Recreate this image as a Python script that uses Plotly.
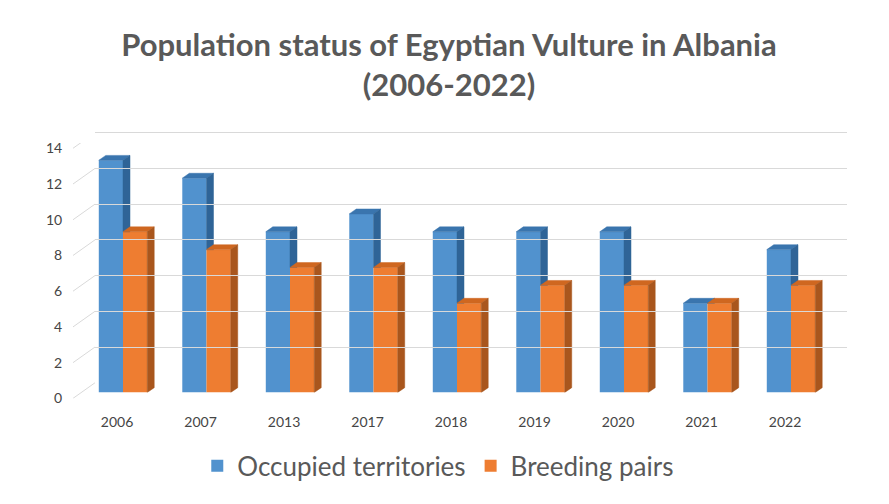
import plotly.graph_objects as go

# ---- data ----
years = ["2006", "2007", "2013", "2017", "2018", "2019", "2020", "2021", "2022"]
occupied = [13, 12, 9, 10, 9, 9, 9, 5, 8]
breeding = [9, 8, 7, 7, 5, 6, 6, 5, 6]
y_ticks = [0, 2, 4, 6, 8, 10, 12, 14]
series_names = ["Occupied territories", "Breeding pairs"]

# ---- geometry / style ----
W, H = 889, 504
UNIT = 18.3            # px per value unit
YTOP = 14.3            # axis range top (a little above last tick so its gridline shows)
CAT_PX = 83.5          # px per category
BAR_W = 0.29           # bar width in category units
DDX = 7 / CAT_PX       # 3D depth offset (category units)
DDY = 5 / UNIT         # 3D depth offset (value units)

FONT = "Lato"
GRAY = "#595959"
TICKGRAY = "#454545"
GRID = "#d9d9d9"
BLUE, BLUE_SIDE, BLUE_TOP = "#5192CE", "#2F6497", "#3A75AE"
ORNG, ORNG_SIDE, ORNG_TOP = "#EE7D31", "#A9561D", "#CF6720"

def xd(px):
    return px / W

def yd(px):
    return 1 - px / H

n = len(years)
xs = list(range(n))

# plane positions (pixels)
bar_left = 123 - CAT_PX / 2
bar_right = bar_left + CAT_PX * n
bar_y0 = 398
lab_x, lab_y0 = 73, 404
back_left, back_y0 = 95, 388
back_right = back_left + CAT_PX * n

fig = go.Figure()

# front faces
fig.add_trace(go.Bar(x=xs, y=occupied, width=BAR_W, offset=-BAR_W, name=series_names[0],
                     marker=dict(color=BLUE, line=dict(width=0)), xaxis="x", yaxis="y2"))
fig.add_trace(go.Bar(x=xs, y=breeding, width=BAR_W, offset=0, name=series_names[1],
                     marker=dict(color=ORNG, line=dict(width=0)), xaxis="x", yaxis="y2"))

def top_poly(xl, xr, v):
    return [xl, xl + DDX, xr + DDX, xr, xl, None], [v, v + DDY, v + DDY, v, v, None]

bt_x, bt_y, bs_x, bs_y, ot_x, ot_y, os_x, os_y = [], [], [], [], [], [], [], []
for i in xs:
    b, o = occupied[i], breeding[i]
    xl, xr = i - BAR_W, i
    px_, py_ = top_poly(xl, xr, b); bt_x += px_; bt_y += py_
    # blue side face, only the part not hidden by the orange bar
    lo = min(o, b)
    bs_x += [xr, xr + DDX, xr + DDX, xr, xr, None]
    bs_y += [lo, lo, b + DDY, b, lo, None]
    px_, py_ = top_poly(i, i + BAR_W, o); ot_x += px_; ot_y += py_
    xr2 = i + BAR_W
    os_x += [xr2, xr2 + DDX, xr2 + DDX, xr2, xr2, None]
    os_y += [0, DDY, o + DDY, o, 0, None]

for fx, fy, col in [(bt_x, bt_y, BLUE_TOP), (bs_x, bs_y, BLUE_SIDE),
                    (ot_x, ot_y, ORNG_TOP), (os_x, os_y, ORNG_SIDE)]:
    fig.add_trace(go.Scatter(x=fx, y=fy, fill="toself", fillcolor=col, mode="lines",
                             line=dict(width=0.5, color=col), showlegend=False, hoverinfo="skip",
                             xaxis="x", yaxis="y2"))

# back-wall gridlines subplot (needs a trace)
fig.add_trace(go.Scatter(x=[0], y=[0], mode="markers", marker=dict(opacity=0),
                         showlegend=False, hoverinfo="skip", xaxis="x2", yaxis="y3"))

# diagonal connectors from labels to back wall
dv = (lab_y0 - back_y0) / UNIT
cx, cy = [], []
for v in y_ticks:
    cx += [0, 1, None]
    cy += [v, v + dv, None]
fig.add_trace(go.Scatter(x=cx, y=cy, mode="lines", line=dict(color=GRID, width=1),
                         showlegend=False, hoverinfo="skip", xaxis="x3", yaxis="y"))

fig.update_layout(
    width=W, height=H,
    margin=dict(l=0, r=0, t=0, b=0),
    paper_bgcolor="white", plot_bgcolor="rgba(0,0,0,0)",
    barmode="overlay",
    title=dict(text="<b>Population status of Egyptian Vulture in Albania<br>(2006-2022)</b>",
               x=0.505, xanchor="center", y=yd(56), yanchor="middle",
               font=dict(family=FONT, size=31, color=GRAY)),
    font=dict(family=FONT, color=GRAY),
    legend=dict(orientation="h", x=0.493, xanchor="center", y=yd(473), yanchor="middle",
                font=dict(family=FONT, size=26, color=GRAY), itemwidth=30,
                bgcolor="rgba(0,0,0,0)"),
    # bar plane
    xaxis=dict(domain=[xd(bar_left), xd(bar_right)], range=[-0.5, n - 0.5], anchor="y2",
               tickmode="array", tickvals=xs, ticktext=years, ticks="outside", ticklen=17,
               tickcolor="rgba(0,0,0,0)", ticklabelshift=-6, showgrid=False, zeroline=False,
               showline=False, tickfont=dict(size=14, color=TICKGRAY)),
    yaxis2=dict(domain=[yd(bar_y0), yd(bar_y0 - YTOP * UNIT)], range=[0, YTOP], anchor="x",
                visible=False, showgrid=False),
    # label plane
    yaxis=dict(domain=[yd(lab_y0), yd(lab_y0 - YTOP * UNIT)], range=[0, YTOP], anchor="free",
               position=xd(lab_x), tickmode="array", tickvals=y_ticks, ticks="outside", ticklen=8,
               tickcolor="rgba(0,0,0,0)", showgrid=False, zeroline=False, showline=False,
               tickfont=dict(size=14, color=TICKGRAY)),
    xaxis3=dict(domain=[xd(lab_x), xd(back_left)], range=[0, 1], anchor="y", visible=False),
    # back wall
    xaxis2=dict(domain=[xd(back_left), xd(back_right)], range=[0, 1], anchor="y3", visible=False),
    yaxis3=dict(domain=[yd(back_y0), yd(back_y0 - YTOP * UNIT)], range=[0, YTOP], anchor="x2",
                tickmode="array", tickvals=y_ticks, showgrid=True, gridcolor=GRID, gridwidth=1,
                showticklabels=False, zeroline=False, showline=False),
)

fig.write_html("out.html")
